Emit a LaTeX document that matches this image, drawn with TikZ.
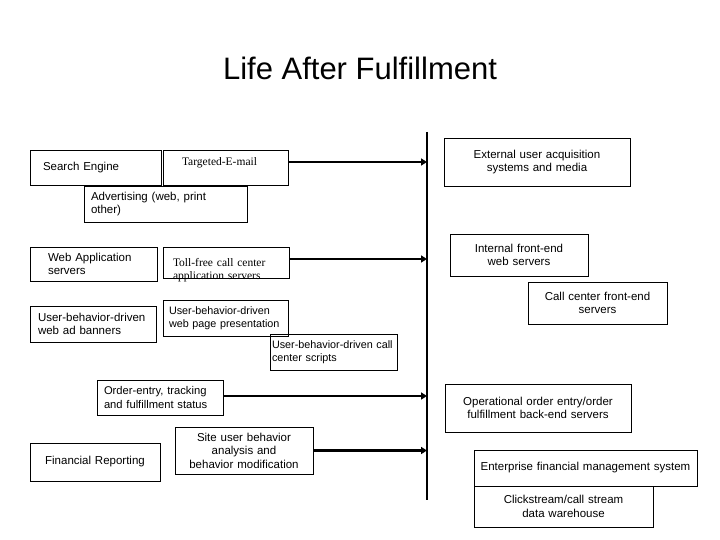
\documentclass[tikz,border=0pt]{standalone}
\usepackage{fontspec}
\setmainfont{Liberation Sans}
\newfontfamily\timesfont{Liberation Serif}
\usetikzlibrary{arrows.meta}
\begin{document}
\begin{tikzpicture}[x=1pt,y=-1pt,
  box/.style={draw, line width=0.9pt, inner ysep=0pt, font=\fontsize{11.5}{13.5}\selectfont},
  lbox/.style={box, align=left},
  cbox/.style={box, align=center},
  serif/.style={font=\timesfont\fontsize{11.5}{13}\selectfont},
  feed/.style={line width=2.8pt, -{Triangle[length=6pt,width=7pt]}},
]
\useasboundingbox (0,0) rectangle (720,540);

\node[font=\fontsize{31}{37}\selectfont] (title) at (360,68) {Life After Fulfillment};

% left column
\node[lbox, text width=105pt, inner xsep=13pt, minimum height=35pt] (se) at (95.5,167.5) {Search Engine};
\node[lbox, serif, text width=87pt, inner xsep=19pt, minimum height=35pt, text height=2.9pt, text depth=7.5pt] (tem) at (225.5,167.5) {Targeted-E-mail};
\node[lbox, text width=149pt, inner xsep=7pt, minimum height=36pt] (adv) at (165.5,204) {Advertising (web, print\\other)};
\node[lbox, text width=91pt, inner xsep=18pt, minimum height=34pt] (wap) at (93.5,264) {Web Application\\servers};
\node[lbox, serif, text width=106pt, inner xsep=10pt, minimum height=31pt, text height=15.9pt, text depth=7.5pt] (tfc) at (226,262.5) {Toll-free call center\\application servers};
\node[lbox, text width=110pt, inner xsep=8pt, minimum height=36pt] (ban) at (93,324) {User-behavior-driven\\web ad banners};
\node[lbox, text width=113pt, inner xsep=6pt, minimum height=36pt, font=\fontsize{10.8}{13}\selectfont] (pres) at (225.5,318) {User-behavior-driven\\web page presentation};
\node[lbox, text width=123pt, inner xsep=2pt, minimum height=36pt, font=\fontsize{10.8}{13}\selectfont] (scr) at (333.5,352) {User-behavior-driven call\\center scripts};
\node[lbox, text width=112pt, inner xsep=7pt, minimum height=35pt, font=\fontsize{11.2}{13.5}\selectfont] (ord) at (160,397.5) {Order-entry, tracking\\and fulfillment status};
\node[cbox, text width=130pt, inner xsep=4pt, minimum height=47pt] (site) at (244,450.5) {Site user behavior\\analysis and\\behavior modification};
\node[cbox, text width=122pt, inner xsep=4pt, minimum height=38pt] (fin) at (95,462) {Financial Reporting};

% right column
\node[cbox, text width=178pt, inner xsep=4pt, minimum height=48pt] (ext) at (537,162) {External user acquisition\\systems and media};
\node[cbox, text width=130pt, inner xsep=4pt, minimum height=42pt] (int) at (519,255) {Internal front-end\\web servers};
\node[cbox, text width=131pt, inner xsep=4pt, minimum height=42pt] (ccf) at (597.5,303) {Call center front-end\\servers};
\node[cbox, text width=178pt, inner xsep=4pt, minimum height=48pt] (ops) at (538,408) {Operational order entry/order\\fulfillment back-end servers};
\node[cbox, text width=215pt, inner xsep=4pt, minimum height=36pt] (efm) at (585.5,468) {Enterprise financial management system};
\node[cbox, text width=171pt, inner xsep=4pt, minimum height=41pt] (dw) at (563.5,506.5) {Clickstream/call stream\\data warehouse};

% divider
\coordinate (vtop) at (427,132);
\coordinate (vbot) at (427,500);
\draw[line width=1.1pt] (vtop) -- (vbot);

% arrows
\coordinate (tem-out) at ([yshift=5.5pt]tem.east);
\coordinate (tfc-out) at ([yshift=3.5pt]tfc.east);
\coordinate (ord-out) at ([yshift=1.5pt]ord.east);
\coordinate (site-out) at (site.east);
\draw[feed] (tem-out) -- (tem-out -| vtop);
\draw[feed] (tfc-out) -- (tfc-out -| vtop);
\draw[feed] (ord-out) -- (ord-out -| vtop);
\draw[feed] (site-out) -- (site-out -| vtop);
\end{tikzpicture}
\end{document}
